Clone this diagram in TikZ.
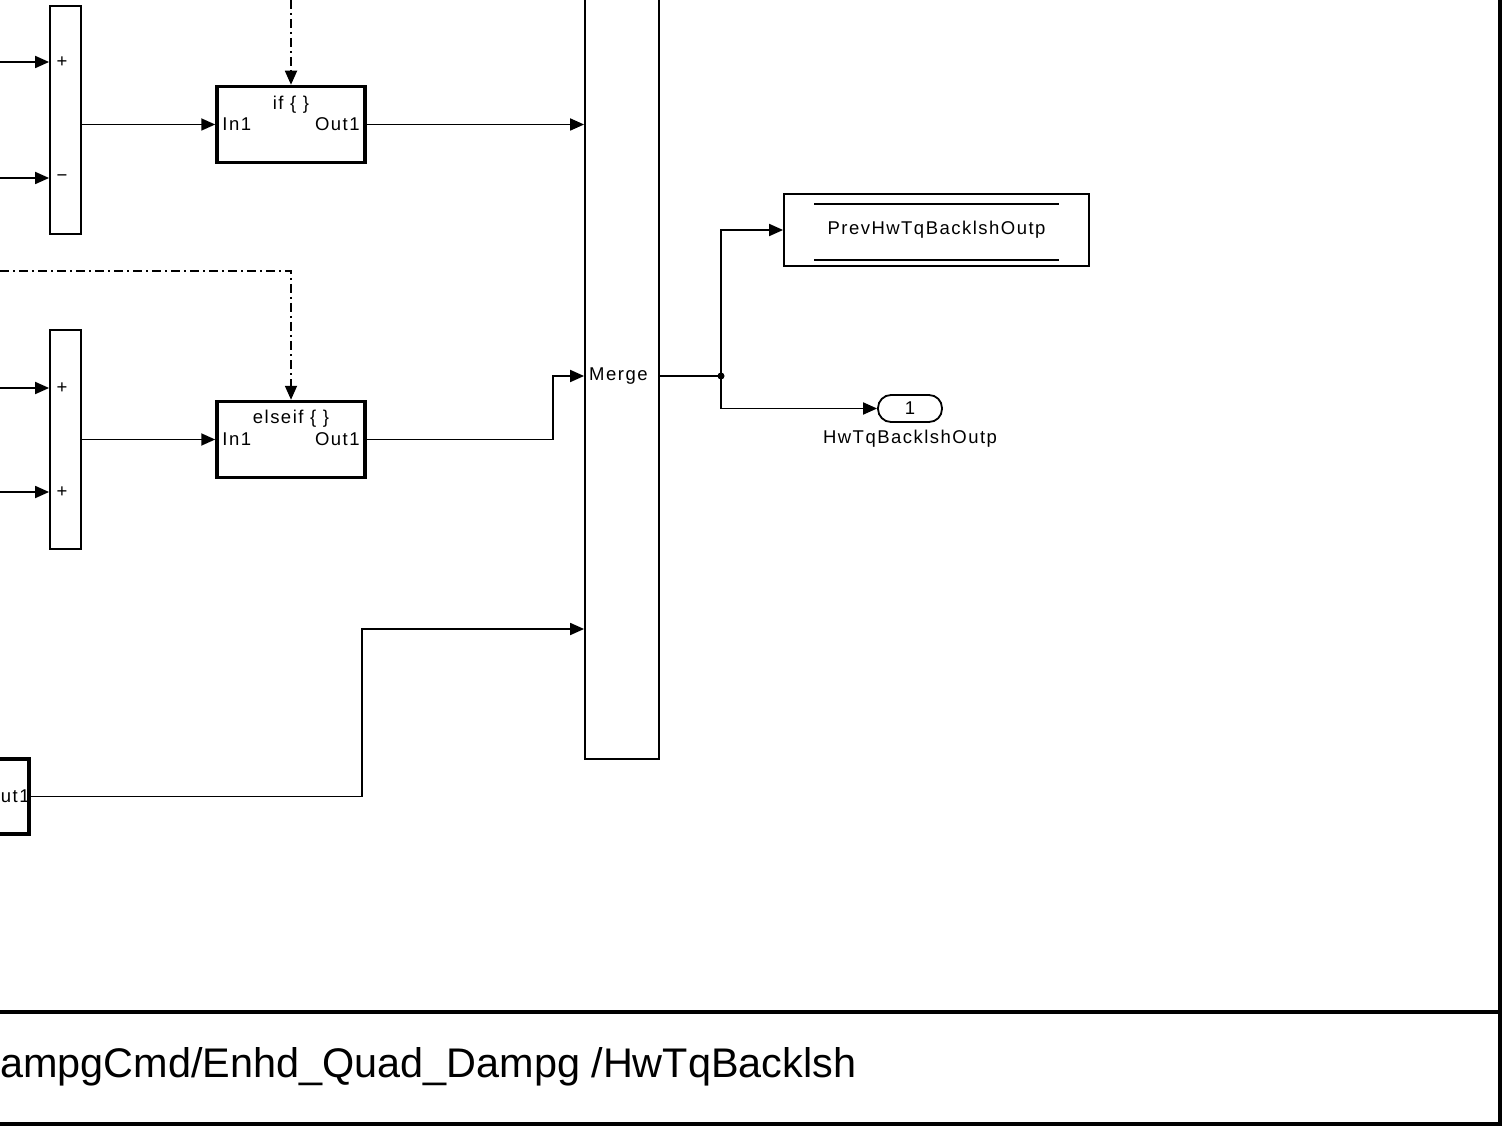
\documentclass[tikz,border=0pt]{standalone}
\usepackage{fontspec}
\setmainfont{Liberation Sans}
\newfontfamily\simfont[LetterSpace=8]{Liberation Sans}
\usetikzlibrary{arrows.meta}
\usetikzlibrary{positioning}

\tikzset{
  wire/.style={line width=1.8pt,-{Triangle[length=14pt,width=12pt]}},
  plainwire/.style={line width=1.8pt},
  ctrlwire/.style={wire,dash pattern=on 9pt off 4pt on 2pt off 4pt},
  sumblk/.style={draw,line width=1.8pt,minimum width=31pt,inner sep=0pt},
  ifblk/.style={draw,line width=3.5pt,minimum width=148pt,minimum height=76pt,inner sep=0pt},
  lbl/.style={font=\simfont\fontsize{18.5}{21}\selectfont,inner sep=2pt},
}

\begin{document}
\begin{tikzpicture}[x=1pt,y=-1pt]
    \useasboundingbox (0,0) rectangle (1506,1131);
    \clip (0,0) rectangle (1506,1131);

    % blocks
    \node[sumblk,minimum height=228pt] (sumA) at (65.5,120) {};
    \node[sumblk,minimum height=219pt] (sumB) at (65.5,439.5) {};
    \node[ifblk] (ifb) at (291,124.5) {};
    \node[ifblk] (elif) at (291,439.5) {};
    \node[ifblk,minimum height=75pt] (elsb) at (-45,796.5) {};
    \node[draw,line width=1.8pt,minimum width=74pt,minimum height=800pt,inner sep=0pt] (mrg) at (622,359) {};
    \node[draw,line width=1.8pt,minimum width=305pt,minimum height=72pt,inner sep=0pt] (prev) at (936.5,230) {};
    \node[draw,line width=1.8pt,minimum width=64pt,minimum height=27pt,rounded corners=13pt,inner sep=0pt] (outp) at (910,408.5) {};

    % block texts
    \node[lbl] at (291,105) {if \{ \}};
    \node[lbl,anchor=west,xshift=5pt] at (ifb.west) {In1};
    \node[lbl,anchor=east,xshift=-5pt] at (ifb.east) {Out1};
    \node[lbl] at (291,419) {elseif \{ \}};
    \node[lbl,anchor=west,xshift=5pt] at (elif.west) {In1};
    \node[lbl,anchor=east,xshift=-5pt] at (elif.east) {Out1};
    \node[lbl,anchor=east,inner sep=0pt,xshift=-1pt] at (elsb.east) {ut1};
    \node[lbl] at (62,62) {+};
    \node[lbl] at (62,178) {\char"2212};
    \node[lbl] at (62,388) {+};
    \node[lbl] at (62,492) {+};
    \node[lbl,anchor=west] (mtxt) at (587,376) {Merge};
    \node[lbl] at (prev.center) {PrevHwTqBacklshOutp};
    \draw[line width=1.4pt] (814,204) -- (1059,204);
    \draw[line width=1.4pt] (814,260) -- (1059,260);
    \node[lbl] at (outp.center) {1};
    \node[lbl,below=5pt of outp] {HwTqBacklshOutp};

    % free ends
    \coordinate (inA1) at (0,62);
    \coordinate (inA2) at (0,178);
    \coordinate (inB1) at (0,388);
    \coordinate (inB2) at (0,492);
    \coordinate (ctlA) at (291,0);
    \coordinate (ctlB) at (0,271);
    \coordinate (jn) at (721,376);

    % signal lines
    \draw[wire] (inA1) -- (sumA.west |- inA1);
    \draw[wire] (inA2) -- (sumA.west |- inA2);
    \draw[wire] (inB1) -- (sumB.west |- inB1);
    \draw[wire] (inB2) -- (sumB.west |- inB2);
    \draw[wire] (sumA.east |- ifb.west) -- (ifb.west);
    \draw[wire] (sumB.east |- elif.west) -- (elif.west);
    \draw[wire] (ifb.east) -- (mrg.west |- ifb.east);
    \draw[wire] (elif.east) -- (553,439.5) |- (mrg.west |- jn);
    \draw[wire] (elsb.east) -- (362,796.5) |- (mrg.west |- 0,629);
    \draw[ctrlwire] (ctlA) -- (ifb.north);
    \draw[ctrlwire] (ctlB) -| (elif.north);
    \draw[plainwire] (mrg.east |- jn) -- (jn);
    \fill (jn) circle (3.5pt);
    \draw[wire] (jn) |- (prev.west);
    \draw[wire] (jn) |- (outp.west);

    % frame and title
    \draw[line width=3.5pt] (0,1012) -- (1500,1012);
    \draw[line width=3.5pt] (-5,1124) -- (1500,1124) -- (1500,-5);
    \node[anchor=west,inner sep=0pt,font=\fontsize{41.4}{47}\selectfont] (title) at (0,1067) {ampgCmd/Enhd\_Quad\_Dampg /HwTqBacklsh};
\end{tikzpicture}
\end{document}
